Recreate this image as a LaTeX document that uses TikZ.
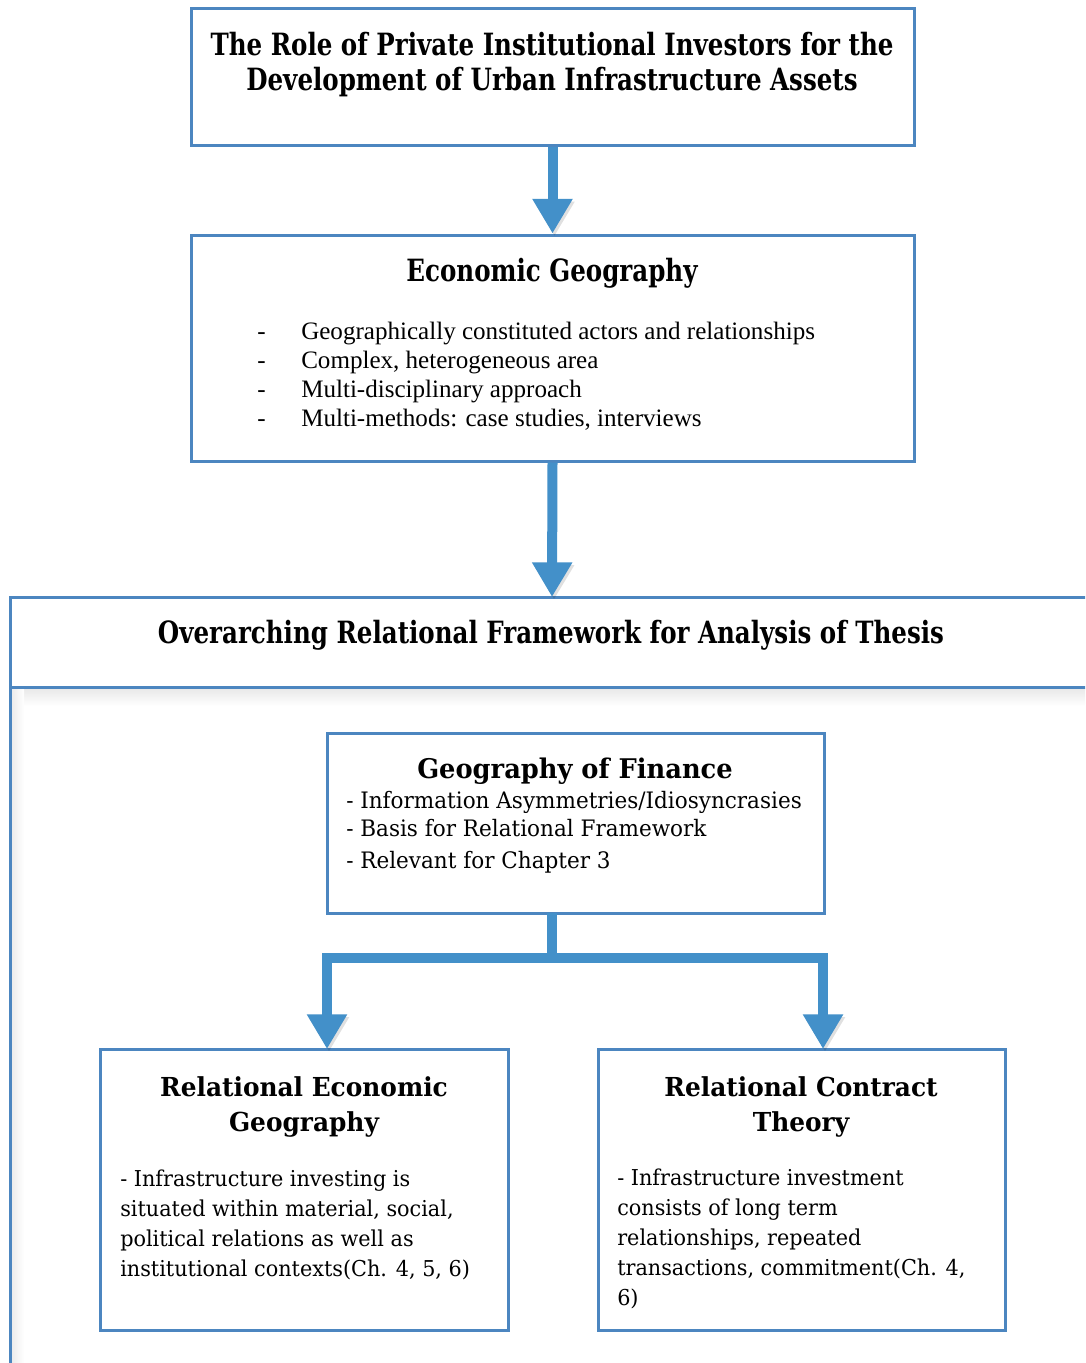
\documentclass[tikz,border=0pt]{standalone}
\usepackage{fontspec}
\setmainfont{Liberation Serif}
\newfontfamily\camb{DejaVu Serif}[FakeStretch=0.95]
\newfontfamily\cambhead{DejaVu Serif}[FakeStretch=0.8]
\usetikzlibrary{arrows.meta,fit}
\definecolor{boxblue}{RGB}{76,134,192}
\definecolor{arrowblue}{RGB}{67,144,201}

\tikzset{
  box/.style={draw=boxblue, line width=2.25pt, inner sep=0pt, fill=white},
  flow/.style={draw=arrowblue, line width=7.5pt, line join=miter,
    -{Triangle[width=28.5pt,length=26pt]},
    preaction={draw=black, opacity=0.12,
      transform canvas={shift={(1.5pt,-2pt)}}}},
  titletext/.style={anchor=base, align=center, inner sep=0pt,
    font=\cambhead\bfseries\fontsize{23}{26.25}\selectfont},
  headtext/.style={anchor=base, align=center, inner sep=0pt,
    font=\camb\bfseries\fontsize{19.6}{26.25}\selectfont},
  bodytext/.style={anchor=base west, align=left, inner sep=0pt,
    font=\camb\fontsize{16.4}{22.5}\selectfont},
}

\begin{document}
\begin{tikzpicture}[x=0.75pt,y=-0.75pt]
  \useasboundingbox (0,0) rectangle (1085,1363);
  \clip (0,0) rectangle (1085,1363);
  \fill[white] (0,0) rectangle (1085,1363);

  % outer framework panel, running off the right and bottom edges
  \shade[top color=black!9, bottom color=white] (11,688) rectangle (1090,706);
  \shade[left color=black!8, right color=white] (11,688) rectangle (24,1370);
  \draw[boxblue, line width=2.25pt] (10,1370) -- (10,597) -- (1090,597);
  \draw[boxblue, line width=2.25pt] (10,687) -- (1090,687);
  \coordinate (frametop) at (552,597);
  \node[titletext] (frametitle) at (551,643)
    {Overarching Relational Framework for Analysis of Thesis};

  % title box
  \node[box, fit={(191,9) (914,145)}] (topbox) {};
  \node[titletext] (toptitle) at (552,90)
    {The Role of Private Institutional Investors for the\\
     Development of Urban Infrastructure Assets};

  % economic geography box
  \node[box, fit={(191,235) (914,461)}] (egbox) {};
  \node[titletext] (eghead) at (552,281) {Economic Geography};
  \node[anchor=base west, inner sep=0pt,
        font=\fontsize{18.8}{21.75}\selectfont] (eglist) at (257,339)
    {\begin{tabular}[t]{@{}p{33pt}@{}l@{}}
      - & Geographically constituted actors and relationships\\
      - & Complex, heterogeneous area\\
      - & Multi-disciplinary approach\\
      - & Multi-methods: case studies, interviews
     \end{tabular}};

  % geography of finance box
  \node[box, fit={(327,733) (824,913)}] (gofbox) {};
  \node[headtext, font=\camb\bfseries\fontsize{20.3}{26}\selectfont]
    (gofhead) at (575,778) {Geography of Finance};
  \node[bodytext, font=\camb\fontsize{17}{21}\selectfont] (goflist) at (346,868)
    {- Information Asymmetries/Idiosyncrasies\\
     - Basis for Relational Framework\\[3pt]
     - Relevant for Chapter 3};

  % relational economic geography box
  \node[box, fit={(100,1049) (508,1330)}] (regbox) {};
  \node[headtext] (reghead) at (304,1131) {Relational Economic\\Geography};
  \node[bodytext] (regbody) at (120,1276)
    {- Infrastructure investing is\\
     situated within material, social,\\
     political relations as well as\\
     institutional contexts(Ch. 4, 5, 6)};

  % relational contract theory box
  \node[box, fit={(598,1049) (1005,1330)}] (rctbox) {};
  \node[headtext] (rcthead) at (801,1131) {Relational Contract\\Theory};
  \node[bodytext] (rctbody) at (617,1305)
    {- Infrastructure investment\\
     consists of long term\\
     relationships, repeated\\
     transactions, commitment(Ch. 4,\\
     6)};

  % connectors
  \coordinate (gofout) at (552,913);
  \coordinate (split) at (552,958);
  \coordinate (regin) at (327,1049);
  \coordinate (rctin) at (823,1049);
  \draw[flow] (topbox.south) -- (egbox.north);
  \draw[flow] (egbox.south) -- (frametop);
  \draw[draw=arrowblue, line width=7.5pt,
    preaction={draw=black, opacity=0.12, transform canvas={shift={(1.5pt,-2pt)}}}]
    (gofout) -- (split);
  \draw[flow] (split) -| (regin);
  \draw[flow] (split) -| (rctin);
\end{tikzpicture}
\end{document}
